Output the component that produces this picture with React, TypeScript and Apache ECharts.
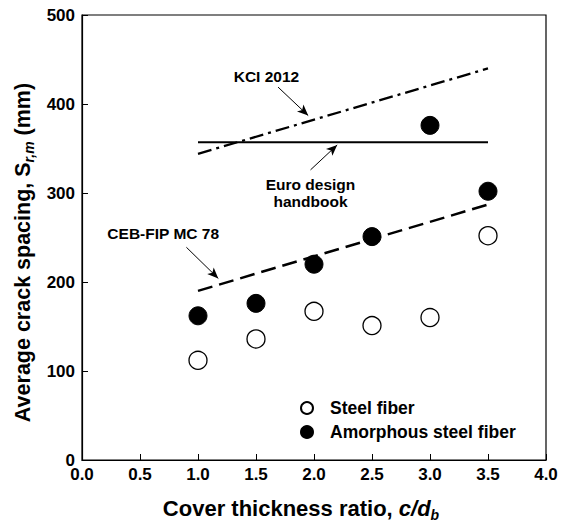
import React, { useEffect, useRef } from "react";
import * as echarts from "echarts";

// ---- data ----
const coverRatio = [1.0, 1.5, 2.0, 2.5, 3.0, 3.5];
const steelFiber = [112, 136, 167, 151, 160, 252];
const amorphousFiber = [162, 176, 220, 251, 376, 302];

const refX = [1.0, 3.5];
const kci2012 = [344, 440];
const euroHandbook = [357, 357];
const cebFip = [190, 287];

const annoLabels = ["KCI 2012", "Euro design\nhandbook", "CEB-FIP MC 78"];
const annoX = [1.59, 1.97, 0.7];
const annoY = [431, 300, 254];
const arrowFromX = [1.69, 1.97, 0.9];
const arrowFromY = [419, 326, 239];
const arrowToX = [1.95, 2.2, 1.175];
const arrowToY = [387, 354, 204];

const xTicks = [0, 0.5, 1.0, 1.5, 2.0, 2.5, 3.0, 3.5, 4.0];
const yTicks = [0, 100, 200, 300, 400, 500];

const FONT = "'Liberation Sans', Arial, sans-serif";

export default function App() {
  const ref = useRef<HTMLDivElement>(null);
  useEffect(() => {
    document.body.style.margin = "0";
    if (!ref.current) return;
    const chart = echarts.init(ref.current, null, { renderer: "svg" });
    const pair = (xs: number[], ys: number[]) => xs.map((x, i) => [x, ys[i]]);
    const option: any = {
      animation: false,
      backgroundColor: "#fff",
      textStyle: { fontFamily: FONT },
      grid: {
        left: 82,
        right: 18,
        top: 15,
        bottom: 62,
        show: true,
        borderColor: "#000",
        borderWidth: 1.2,
        backgroundColor: "transparent",
      },
      legend: {
        data: ["Steel fiber", "Amorphous steel fiber"],
        orient: "vertical",
        left: 300,
        top: 399,
        padding: 0,
        itemWidth: 36,
        itemHeight: 12,
        itemGap: 6,
        icon: "circle",
        textStyle: { fontFamily: FONT, fontWeight: "bold", fontSize: 17.5, color: "#000" },
      },
      xAxis: {
        type: "value",
        min: xTicks[0],
        max: xTicks[xTicks.length - 1],
        interval: 0.5,
        name: "{n|Cover thickness ratio, }{i|c/d}{s|b}",
        nameLocation: "middle",
        nameGap: 35,
        nameTextStyle: {
          fontFamily: FONT,
          fontWeight: "bold",
          fontSize: 22,
          color: "#000",
          padding: [0, 26, 0, 0],
          rich: {
            n: { fontFamily: FONT, fontWeight: "bold", fontSize: 22, lineHeight: 27, color: "#000" },
            i: { fontFamily: FONT, fontWeight: "bold", fontStyle: "italic", fontSize: 22, lineHeight: 27, color: "#000" },
            s: { fontFamily: FONT, fontWeight: "bold", fontStyle: "italic", fontSize: 14, lineHeight: 14, verticalAlign: "bottom", color: "#000" },
          },
        },
        axisLine: { lineStyle: { color: "#000", width: 1.2 } },
        axisTick: { inside: true, length: 6, lineStyle: { color: "#000", width: 1 } },
        axisLabel: {
          margin: 6,
          fontFamily: FONT,
          fontWeight: "bold",
          fontSize: 17,
          color: "#000",
          formatter: (v: number) => v.toFixed(1),
        },
        splitLine: { show: false },
      },
      yAxis: {
        type: "value",
        min: yTicks[0],
        max: yTicks[yTicks.length - 1],
        interval: 100,
        name: "{n|Average crack spacing, S}{s|r,m}{n| (mm)}",
        nameLocation: "middle",
        nameGap: 45,
        nameTextStyle: {
          fontFamily: FONT,
          fontWeight: "bold",
          fontSize: 21.5,
          color: "#000",
          padding: [0, 30, 0, 0],
          rich: {
            n: { fontFamily: FONT, fontWeight: "bold", fontSize: 21.5, lineHeight: 26, color: "#000" },
            s: { fontFamily: FONT, fontWeight: "bold", fontStyle: "italic", fontSize: 14, lineHeight: 14, verticalAlign: "bottom", color: "#000" },
          },
        },
        axisLine: { lineStyle: { color: "#000", width: 1.2 } },
        axisTick: { inside: true, length: 6, lineStyle: { color: "#000", width: 1 } },
        axisLabel: {
          margin: 7,
          fontFamily: FONT,
          fontWeight: "bold",
          fontSize: 17,
          color: "#000",
        },
        splitLine: { show: false },
      },
      series: [
        {
          name: "KCI 2012",
          type: "line",
          data: pair(refX, kci2012),
          symbol: "none",
          silent: true,
          lineStyle: { color: "#000", width: 2.3, type: [14, 5, 3, 5] },
        },
        {
          name: "Euro design handbook",
          type: "line",
          data: pair(refX, euroHandbook),
          symbol: "none",
          silent: true,
          lineStyle: { color: "#000", width: 2.2, type: "solid" },
        },
        {
          name: "CEB-FIP MC 78",
          type: "line",
          data: pair(refX, cebFip),
          symbol: "none",
          silent: true,
          lineStyle: { color: "#000", width: 2.5, type: [15, 7] },
          markLine: {
            silent: true,
            symbol: ["none", "arrow"],
            symbolSize: [7, 11],
            label: { show: false },
            lineStyle: { color: "#000", width: 1, type: "solid", opacity: 1 },
            data: arrowFromX.map((x, i) => [
              { coord: [x, arrowFromY[i]] },
              { coord: [arrowToX[i], arrowToY[i]] },
            ]),
          },
        },
        {
          name: "Steel fiber",
          type: "scatter",
          data: pair(coverRatio, steelFiber),
          symbol: "circle",
          symbolSize: 18,
          itemStyle: { color: "#fff", borderColor: "#000", borderWidth: 1.3, opacity: 1 },
        },
        {
          name: "Amorphous steel fiber",
          type: "scatter",
          data: pair(coverRatio, amorphousFiber),
          symbol: "circle",
          symbolSize: 18,
          itemStyle: { color: "#000", borderColor: "#000", borderWidth: 1, opacity: 1 },
        },
      ],
    };
    chart.setOption(option);
    const graphics = annoLabels.map((t, i) => {
      const p = chart.convertToPixel({ xAxisIndex: 0, yAxisIndex: 0 }, [annoX[i], annoY[i]]) as number[];
      return {
        type: "text",
        x: p[0],
        y: p[1],
        silent: true,
        z: 10,
        style: {
          text: t,
          fill: "#000",
          font: `bold 15.5px ${FONT}`,
          lineHeight: 17.5,
          align: "center",
          verticalAlign: "middle",
        },
      };
    });
    chart.setOption({ graphic: graphics });
    return () => chart.dispose();
  }, []);
  return <div ref={ref} style={{ width: 564, height: 527 }} />;
}
